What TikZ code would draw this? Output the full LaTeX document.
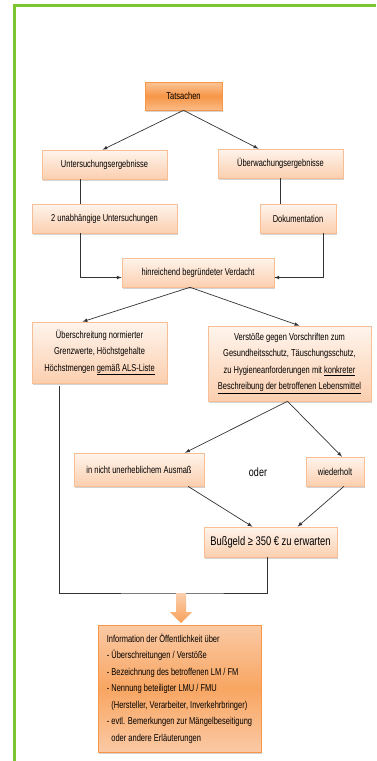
\documentclass[tikz,border=0pt]{standalone}
\usepackage{fontspec}
\setmainfont{Liberation Sans}
\newfontfamily\boxfont[FakeStretch=0.75]{Liberation Sans}
\usetikzlibrary{shadows}
\definecolor{rahmen}{HTML}{7DC52E}
\definecolor{orng}{HTML}{F79646}
\definecolor{pfirsich}{HTML}{FBCFAF}
\definecolor{hell}{HTML}{FFF4EC}
\definecolor{kante}{HTML}{F8BE95}

\begin{document}
\begin{tikzpicture}[x=1pt,y=-1pt,
  kasten/.style={draw=kante,line width=0.6pt,top color=hell,bottom color=pfirsich,
    drop shadow={opacity=0.35,shadow xshift=0.8pt,shadow yshift=-1.5pt},
    inner sep=2pt,font=\boxfont\fontsize{10}{16.5}\selectfont},
  haupt/.style={kasten,draw=orng,top color=orng!55,bottom color=orng!65,middle color=orng},
  pfeil/.style={-latex,black!80,line width=0.7pt},
  linie/.style={black!80,line width=0.7pt}]
\useasboundingbox (0,0) rectangle (376,761);

\draw[rahmen,line width=3pt] (14.5,761) -- (14.5,5.5) -- (376,5.5);

\node[haupt,minimum width=77,minimum height=28] (tats) at (183.5,96) {Tatsachen};
\node[kasten,minimum width=125,minimum height=29] (unters) at (104.5,164.5) {Untersuchungsergebnisse};
\node[kasten,minimum width=125,minimum height=29] (ueberw) at (280.5,163.5) {Überwachungsergebnisse};
\node[kasten,minimum width=145,minimum height=29] (zwei) at (104.5,218.5) {2 unabhängige Untersuchungen};
\node[kasten,minimum width=76,minimum height=29] (doku) at (298,218.5) {Dokumentation};
\node[kasten,minimum width=152,minimum height=29] (verdacht) at (198,272.5) {hinreichend begründeter Verdacht};
\node[kasten,minimum width=135,minimum height=61,align=center] (grenz) at (99.5,352.5)
    {Überschreitung normierter\\Grenzwerte, Höchstgehalte\\Höchstmengen \underline{gemäß ALS-Liste}};
\node[kasten,minimum width=163,minimum height=75,align=center] (verst) at (289.5,363.5)
    {Verstöße gegen Vorschriften zum\\Gesundheitsschutz, Täuschungsschutz,\\zu Hygieneanforderungen mit \underline{konkreter}\\\underline{Beschreibung der betroffenen Lebensmittel}};
\node[kasten,minimum width=130,minimum height=33] (ausmass) at (139,469.5) {in nicht unerheblichem Ausmaß};
\node[kasten,minimum width=58,minimum height=29] (wieder) at (335,471.5) {wiederholt};
\node[font=\boxfont\fontsize{12}{14}\selectfont] (oder) at (258,472) {oder};
\node[kasten,minimum width=133,minimum height=30,font=\boxfont\fontsize{12.5}{14}\selectfont] (buss) at (270.5,542)
    {Bußgeld ≥ 350 € zu erwarten};
\node[haupt,top color=pfirsich!90!orng,bottom color=pfirsich!90!orng,middle color=orng!85,
    minimum width=163,minimum height=127,align=left] (info) at (179.5,688.5)
    {Information der Öffentlichkeit über\\
     - Überschreitungen / Verstöße\\
     - Bezeichnung des betroffenen LM / FM\\
     - Nennung beteiligter LMU / FMU\\
     \hphantom{- }(Hersteller, Verarbeiter, Inverkehrbringer)\\
     - evtl. Bemerkungen zur Mängelbeseitigung\\
     \hphantom{- }oder andere Erläuterungen};

\draw[pfeil] (tats.south) -- ([xshift=-2pt]unters.north);
\draw[pfeil] (tats.south) -- ([xshift=-22pt]ueberw.north);
\draw[linie] ([xshift=-24pt]unters.south) -- ([xshift=-24pt]zwei.north);
\draw[linie] (ueberw.south) -- (ueberw.south |- doku.north);
\draw[pfeil] ([xshift=-24pt]zwei.south) |- ([yshift=-5pt]verdacht.west);
\draw[pfeil] ([xshift=25pt]doku.south) |- ([yshift=-5pt]verdacht.east);
\draw[pfeil] ([xshift=-8pt]verdacht.south) -- ([xshift=-17pt]grenz.north);
\draw[pfeil] ([xshift=-8pt]verdacht.south) -- ([xshift=10pt]verst.north);
\draw[pfeil] ([xshift=-2pt]verst.south) -- ([xshift=46pt]ausmass.north);
\draw[pfeil] ([xshift=-2pt]verst.south) -- ([xshift=7pt]wieder.north);
\draw[pfeil] ([xshift=49pt]ausmass.south) -- ([xshift=-18pt]buss.north);
\draw[pfeil] ([xshift=9pt]wieder.south) -- ([xshift=27pt]buss.north);

\coordinate (fuss) at (181,593);
\draw[linie] ([xshift=-40pt,yshift=-3pt]grenz.south) |- (fuss) -| ([xshift=-3.5pt]buss.south);
\shade[top color=pfirsich,bottom color=orng!90] (fuss) ++(-5,0) -- ++(10,0) -- ++(0,19) -- ++(6,0)
    -- ++(-11,11) -- ++(-11,-11) -- ++(6,0) -- cycle;

\end{tikzpicture}
\end{document}
